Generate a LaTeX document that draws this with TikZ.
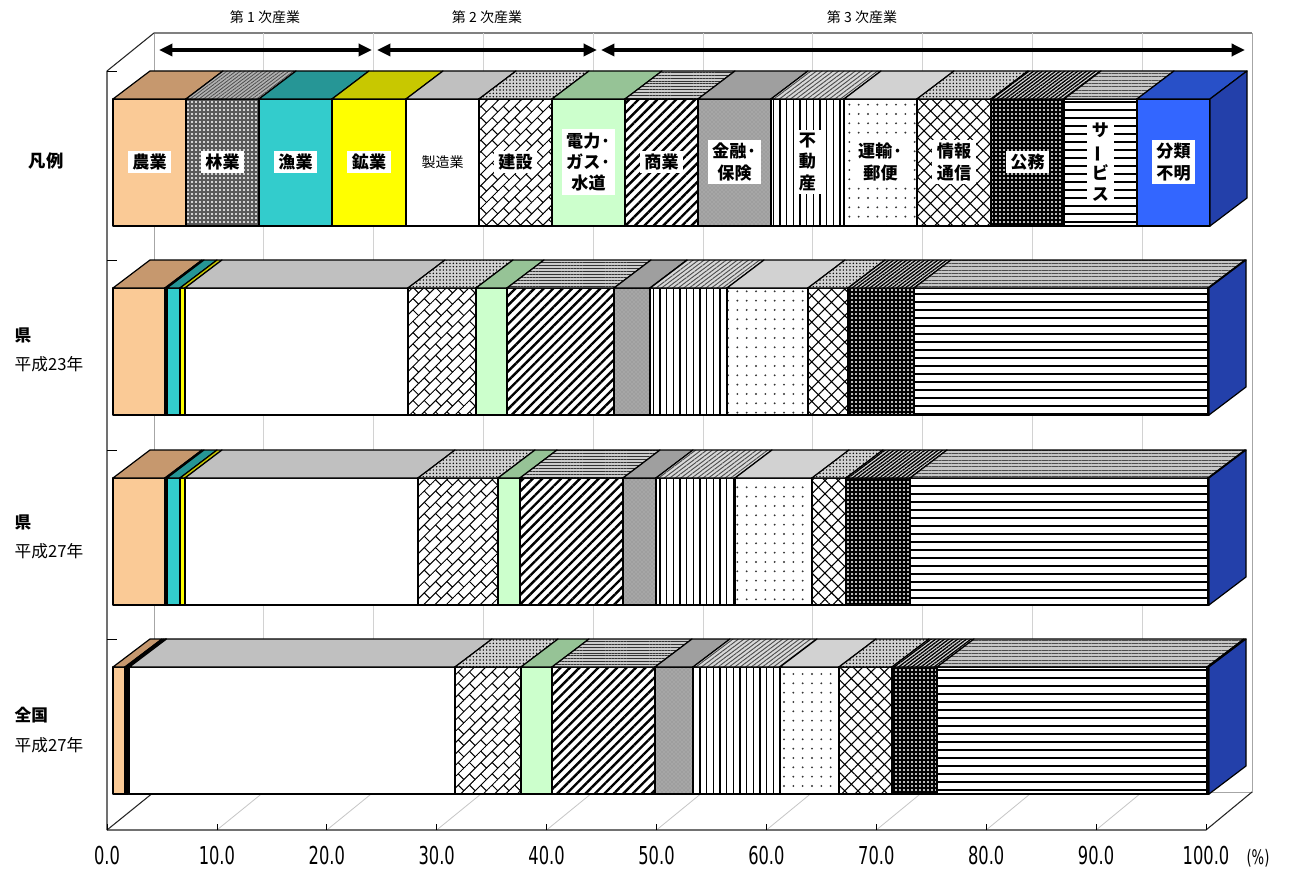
\documentclass[tikz,border=0pt]{standalone}
\usepackage{fontspec}
\usepackage{graphicx}
\setmainfont{Noto Sans CJK JP}
\newfontfamily\tickfont[FakeStretch=0.66]{DejaVu Sans}
\usetikzlibrary{patterns,patterns.meta,arrows.meta}

\pgfdeclarepattern{
  name=dbricks,
  type=uncolored,
  bottom left={\pgfpoint{-0.5pt}{-0.5pt}},
  top right={\pgfpoint{12.5pt}{12.5pt}},
  tile size={\pgfpoint{12pt}{12pt}},
  tile transformation={\pgftransformrotate{45}},
  code={%
    \pgfsetlinewidth{0.75pt}%
    \pgfpathmoveto{\pgfpoint{0pt}{0pt}}\pgfpathlineto{\pgfpoint{12pt}{0pt}}%
    \pgfpathmoveto{\pgfpoint{0pt}{6pt}}\pgfpathlineto{\pgfpoint{12pt}{6pt}}%
    \pgfpathmoveto{\pgfpoint{0pt}{0pt}}\pgfpathlineto{\pgfpoint{0pt}{6pt}}%
    \pgfpathmoveto{\pgfpoint{6pt}{6pt}}\pgfpathlineto{\pgfpoint{6pt}{12pt}}%
    \pgfusepath{stroke}%
  }
}

\tikzset{
  f1/.style={fill={rgb,255:red,250;green,202;blue,150}},
  t1/.style={fill={rgb,255:red,198;green,152;blue,110}},
  f2/.style={preaction={fill=black!65}, pattern={Dots[distance=3pt,radius=0.85pt]}, pattern color=white},
  t2/.style={preaction={fill=gray!60}, pattern={Lines[angle=37,distance=2pt,line width=0.6pt]}, pattern color=black!70},
  f3/.style={fill={rgb,255:red,51;green,204;blue,204}},
  t3/.style={fill={rgb,255:red,38;green,150;blue,150}},
  f4/.style={fill={rgb,255:red,255;green,255;blue,0}},
  t4/.style={fill={rgb,255:red,200;green,200;blue,0}},
  f5/.style={fill=white},
  t5/.style={fill={rgb,255:red,192;green,192;blue,192}},
  f6/.style={preaction={fill=white}, pattern=dbricks, pattern color=black},
  t6/.style={preaction={fill=gray!35}, pattern={Dots[distance=2.5pt,radius=0.6pt]}, pattern color=black},
  f7/.style={fill={rgb,255:red,204;green,255;blue,204}},
  t7/.style={fill={rgb,255:red,150;green,195;blue,150}},
  f8/.style={preaction={fill=white}, pattern={Lines[angle=45,distance=5pt,line width=1.8pt]}, pattern color=black},
  t8/.style={preaction={fill=gray!40}, pattern={Lines[angle=0,distance=2.2pt,line width=0.6pt]}, pattern color=black!80},
  f9/.style={preaction={fill=gray!70}, pattern=crosshatch dots, pattern color=gray!95},
  t9/.style={fill=gray!75},
  f10/.style={preaction={fill=white}, pattern={Lines[angle=90,distance=5pt,line width=1pt]}, pattern color=black},
  t10/.style={preaction={fill=gray!30}, pattern={Lines[angle=37,distance=2.5pt,line width=0.7pt]}, pattern color=black!70},
  f11/.style={preaction={fill=white}, pattern={Dots[distance=7pt,radius=0.8pt]}, pattern color=black!80},
  t11/.style={fill=gray!35},
  f12/.style={preaction={fill=white}, pattern={Hatch[angle=45,distance=7pt,line width=0.8pt]}, pattern color=black},
  t12/.style={preaction={fill=gray!35}, pattern={Dots[distance=2.5pt,radius=0.6pt]}, pattern color=black},
  f13/.style={preaction={fill=black}, pattern={Dots[distance=3pt,radius=0.9pt]}, pattern color=white},
  t13/.style={preaction={fill=gray!30}, pattern={Lines[angle=37,distance=2pt,line width=1pt]}, pattern color=black},
  f14/.style={preaction={fill=white}, pattern={Lines[angle=0,distance=6pt,line width=1.8pt]}, pattern color=black},
  t14/.style={preaction={fill=gray!45}, pattern={Lines[angle=0,distance=2.5pt,line width=0.6pt]}, pattern color=black!70},
  f15/.style={fill={rgb,255:red,51;green,102;blue,255}},
  t15/.style={fill={rgb,255:red,40;green,80;blue,200}},
  s15/.style={fill={rgb,255:red,35;green,64;blue,170}},
  lab/.style={fill=white, inner xsep=3.5pt, inner ysep=2.5pt, align=center, font=\bfseries\fontsize{12.8}{16}\selectfont},
  ylab/.style={anchor=west, align=left, font=\fontsize{12.5}{22}\selectfont},
  ttl/.style={font=\fontsize{10.5}{12}\selectfont},
  ticklab/.style={font=\tickfont\fontsize{18.5}{20}\selectfont},
  bigarr/.style={{Triangle[length=10pt,width=9pt]}-{Triangle[length=10pt,width=9pt]}, line width=2.6pt},
  seg/.style={draw=black, line width=0.9pt},
}

\newcommand\mybar[3]{%
  \foreach \a/\b/\s in {#2}{%
    \path[f\s, seg] (\a,#1) rectangle (\b,#1+127);
    \path[t\s, seg] (\a,#1) -- (\b,#1) -- (\b+37,#1-28) -- (\a+37,#1-28) -- cycle;
  }
  \path[s15, seg] (#3,#1) -- (#3+37,#1-28) -- (#3+37,#1+99) -- (#3,#1+127) -- cycle;
}

\begin{document}
\begin{tikzpicture}[x=0.75pt,y=-0.75pt,line join=round]
\useasboundingbox (0,0) rectangle (1289,870);
\fill[white] (0,0) rectangle (1289,870);

% back wall and grid
\draw[gray!70, line width=0.7pt] (154,33) rectangle (1252,792);
\draw[gray, line width=1pt] (154,33) -- (1252,33);
\foreach \k in {1,...,9} \draw[gray!35, line width=0.6pt] ({154+109.8*\k},33) -- ({154+109.8*\k},792);
% floor grid
\foreach \k in {1,...,9} \draw[gray!45, line width=0.6pt] ({107+109.9*\k},830) -- ({154+109.8*\k},792);
% left wall
\draw[black!85, line width=0.8pt] (107,830) -- (107,71) -- (154,33);
\draw[black!85, line width=0.8pt] (107,830) -- (154,792);
% floor front edge
\draw[black!85, line width=0.8pt] (107,830) -- (1206,830) -- (1252,792);
\foreach \k in {0,...,10} \draw[line width=0.6pt] ({107+109.9*\k},830) -- ({107+109.9*\k},824);
\foreach \y in {71,260,450,639} \draw[line width=0.6pt] (107,\y) -- (117,\y);

% arrows
\coordinate (a1s) at (159,50); \coordinate (a1e) at (372,50);
\coordinate (a2s) at (377,50); \coordinate (a2e) at (597,50);
\coordinate (a3s) at (601,50); \coordinate (a3e) at (1245,50);
\draw[bigarr] (a1s) -- (a1e);
\draw[bigarr] (a2s) -- (a2e);
\draw[bigarr] (a3s) -- (a3e);
\node[ttl] (ttl1) at (265,17) {第 1 次産業};
\node[ttl] (ttl2) at (487,17) {第 2 次産業};
\node[ttl] (ttl3) at (862,17) {第 3 次産業};

% legend bar
\mybar{99}{113/186/1,186/259/2,259/332/3,332/406/4,406/479/5,479/552/6,552/625/7,625/698/8,698/771/9,771/844/10,844/917/11,917/991/12,991/1064/13,1064/1137/14,1137/1210/15}{1210}
% 県 平成23年
\mybar{288}{113/165/1,165/167/2,167/180/3,180/185/4,185/408/5,408/476/6,476/507/7,507/614/8,614/650/9,650/727/10,727/808/11,808/848/12,848/914/13,914/1208/14,1208/1209/15}{1209}
% 県 平成27年
\mybar{478}{113/165/1,165/167/2,167/180/3,180/185/4,185/418/5,418/498/6,498/520/7,520/623/8,623/656/9,656/735/10,735/812/11,812/846/12,846/910/13,910/1208/14,1208/1209/15}{1209}
% 全国 平成27年
\mybar{667}{113/125/1,125/127/2,127/128.5/3,128.5/129.5/4,129.5/455/5,455/521/6,521/552/7,552/655/8,655/693/9,693/780/10,780/839/11,839/892/12,892/937/13,937/1207/14,1207/1209/15}{1209}

% legend labels
\node[lab] (lg1) at (149.5,162) {農業};
\node[lab] (lg2) at (222.5,162) {林業};
\node[lab] (lg3) at (295.5,162) {漁業};
\node[lab] (lg4) at (369,162) {鉱業};
\node[lab, font=\fontsize{10.5}{12}\selectfont] (lg5) at (442.5,162) {製造業};
\node[lab] (lg6) at (515.5,162) {建設};
\node[lab] (lg7) at (588.5,162) {電力·\\ガス·\\水道};
\node[lab] (lg8) at (661.5,162) {商業};
\node[lab] (lg9) at (734.5,162) {金融·\\保険};
\node[lab] (lg10) at (807.5,162) {不\\動\\産};
\node[lab] (lg11) at (880.5,162) {運輸·\\郵便};
\node[lab] (lg12) at (954,162) {情報\\通信};
\node[lab] (lg13) at (1027.5,162) {公務};
\node[lab] (lg14) at (1100.5,162) {サ\\\rotatebox[origin=c]{90}{ー}\\ビ\\ス};
\node[lab] (lg15) at (1173.5,162) {分類\\不明};

% row labels
\node[font=\bfseries\fontsize{13}{15}\selectfont] (yl0) at (46,161) {凡例};
\node[ylab] (yl1) at (10,350) {\textbf{県}\\平成23年};
\node[ylab] (yl2) at (10,537) {\textbf{県}\\平成27年};
\node[ylab] (yl3) at (10,730) {\textbf{全国}\\平成27年};

% x tick labels
\foreach \k/\t in {0/0.0,1/10.0,2/20.0,3/30.0,4/40.0,5/50.0,6/60.0,7/70.0,8/80.0,9/90.0,10/100.0}
  \node[ticklab] (xt\k) at ({107+109.9*\k},856) {\t};
\node[ticklab, font=\tickfont\fontsize{15}{16}\selectfont] (pct) at (1258,858) {(\%)};
\end{tikzpicture}
\end{document}
